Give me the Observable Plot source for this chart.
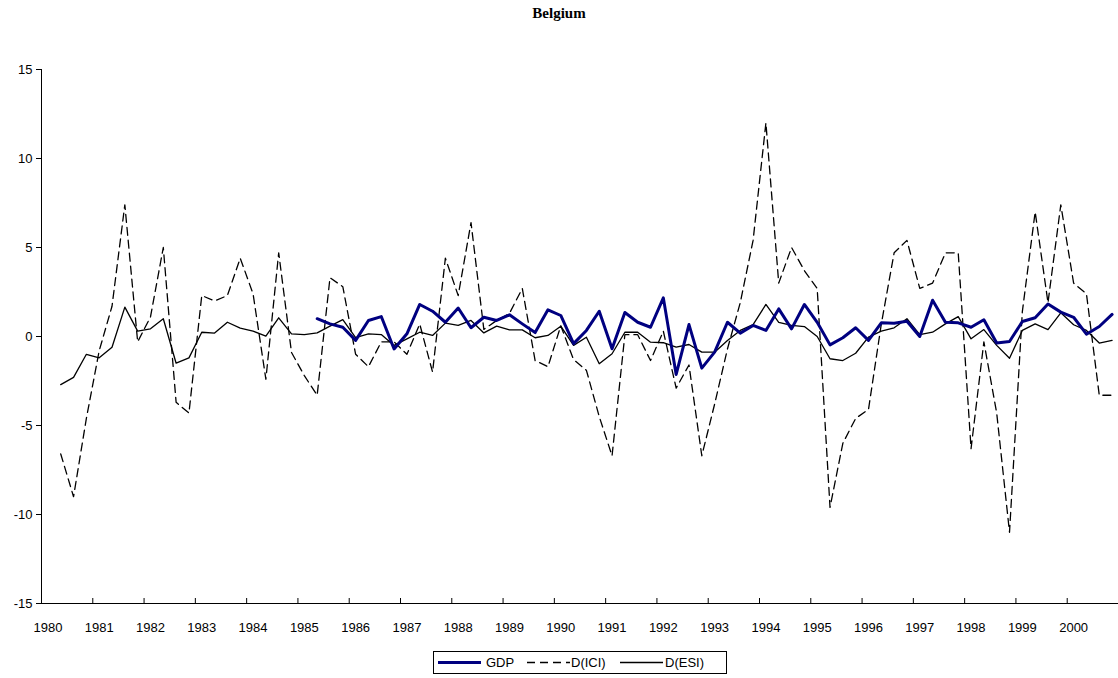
<!DOCTYPE html>
<html><head><meta charset="utf-8">
<script src="https://cdn.jsdelivr.net/npm/d3@7"></script>
<script src="https://cdn.jsdelivr.net/npm/@observablehq/plot@0.6"></script>
<style>
body{margin:0;background:#fff;width:1118px;height:678px;position:relative;overflow:hidden;font-family:"Liberation Sans",Arial,sans-serif;}
#title{position:absolute;top:5px;left:0;width:1118px;text-align:center;font:bold 15px "Liberation Serif","Times New Roman",serif;color:#000;z-index:2;}
#chart{position:absolute;top:0;left:0;z-index:1;}
#legend{position:absolute;left:433px;top:651px;width:292px;height:21px;border:1px solid #000;font-size:13px;color:#000;z-index:2;background:#fff;}
#legend .it{position:absolute;top:0;height:21px;line-height:21px;white-space:nowrap;}
#legend svg{position:absolute;top:0;}
</style></head><body>
<div id="title">Belgium</div>
<div id="chart"></div>
<div id="legend"></div>
<script>
// Year labels (category axis, quarterly data)
const years = ["1980","1981","1982","1983","1984","1985","1986","1987","1988","1989","1990",
               "1991","1992","1993","1994","1995","1996","1997","1998","1999","2000"];
const yTicks = [-15, -10, -5, 0, 5, 10, 15];

// Series starts (quarter labels)
const iciStart = "1980Q2";
const esiStart = "1980Q2";
const gdpStart = "1985Q2";

// D(ICI): 1980Q2 .. 2000Q4
const ici = [-6.6, -9.0, -4.6, -0.8, 1.7, 7.4, -0.3, 1.1, 5.0, -3.7,
             -4.3, 2.3, 2.0, 2.3, 4.4, 2.4, -2.4, 4.7, -0.9, -2.2,
             -3.3, 3.3, 2.8, -1.0, -1.7, -0.3, -0.3, -1.0, 0.7, -2.0,
             4.4, 2.3, 6.4, 0.4, 0.9, 1.3, 2.7, -1.35, -1.7, 0.6,
             -1.3, -1.9, -4.5, -6.7, 0.1, 0.1, -1.35, 0.3, -2.9, -1.6,
             -6.7, -3.8, -0.7, 1.9, 5.4, 12.0, 3.0, 5.0, 3.7, 2.7,
             -9.6, -6.0, -4.6, -4.1, 0.7, 4.7, 5.4, 2.7, 3.0, 4.7,
             4.7, -6.3, -0.3, -4.3, -11.0, 1.4, 7.0, 1.9, 7.4, 3.0,
             2.4, -3.3, -3.3];

// D(ESI): 1980Q2 .. 2000Q4
const esi = [-2.7, -2.3, -1.0, -1.2, -0.6, 1.65, 0.3, 0.43, 1.0, -1.5,
             -1.2, 0.24, 0.19, 0.8, 0.47, 0.3, 0.02, 1.05, 0.15, 0.11,
             0.2, 0.58, 0.95, -0.07, 0.15, 0.11, -0.5, -0.13, 0.24, 0.06,
             0.75, 0.62, 0.9, 0.2, 0.58, 0.37, 0.37, -0.07, 0.06, 0.58,
             -0.5, -0.04, -1.53, -0.97, 0.24, 0.24, -0.32, -0.35, -0.6, -0.45,
             -0.88, -0.88, -0.22, 0.34, 0.67, 1.8, 0.8, 0.62, 0.56, 0.0,
             -1.25, -1.35, -0.94, -0.04, 0.3, 0.49, 1.0, 0.11, 0.24, 0.71,
             1.12, -0.13, 0.39, -0.5, -1.22, 0.34, 0.71, 0.39, 1.33, 0.66,
             0.34, -0.37, -0.22];

// GDP: 1985Q2 .. 2000Q4
const gdp = [1.0, 0.71, 0.52, -0.22, 0.9, 1.12, -0.7, 0.15, 1.8, 1.42,
             0.8, 1.6, 0.49, 1.08, 0.9, 1.22, 0.71, 0.22, 1.5, 1.18,
             -0.4, 0.34, 1.42, -0.69, 1.35, 0.8, 0.52, 2.17, -2.13, 0.67,
             -1.78, -0.88, 0.8, 0.19, 0.62, 0.34, 1.55, 0.43, 1.8, 0.8,
             -0.47, -0.07, 0.49, -0.22, 0.77, 0.75, 0.86, 0.0, 2.04, 0.8,
             0.77, 0.52, 0.94, -0.37, -0.28, 0.84, 1.05, 1.83, 1.37, 1.08,
             0.13, 0.56, 1.24];

// Quarter categories
const quarters = years.flatMap(y => ["Q1","Q2","Q3","Q4"].map(q => y + q));
const rows = (vals, start) => {
  const s = quarters.indexOf(start);
  return vals.map((v, j) => ({x: s + j + 0.5, v}));
};
const iciRows = rows(ici, iciStart);
const esiRows = rows(esi, esiStart);
const gdpRows = rows(gdp, gdpStart);

const yearBounds = years.map(y => quarters.indexOf(y + "Q1"));
const labelPos = yearBounds.map(b => b + 0.5);

const chart = Plot.plot({
  width: 1118, height: 640,
  marginLeft: 41, marginRight: 0, marginTop: 69, marginBottom: 37,
  x: {domain: [0, quarters.length], label: null},
  y: {domain: [-15, 15], label: null},
  style: {fontFamily: "'Liberation Sans', Arial, sans-serif", fontSize: "13px", color: "#000", background: "transparent", overflow: "visible"},
  marks: [
    Plot.axisY({ticks: yTicks, tickSize: 5, tickPadding: 4, label: null, tickFormat: d => String(d), stroke: "#000", strokeOpacity: 1}),
    Plot.axisX({ticks: labelPos, tickSize: 0, tickPadding: 19, label: null, tickFormat: d => years[labelPos.indexOf(d)]}),
    Plot.ruleX(yearBounds.slice(1), {stroke: "#000", insetTop: 529}),
    Plot.ruleY([-15], {stroke: "#000"}),
    Plot.ruleX([0], {stroke: "#000"}),
    Plot.line(esiRows, {x: "x", y: "v", stroke: "#000", strokeWidth: 1.3}),
    Plot.line(iciRows, {x: "x", y: "v", stroke: "#000", strokeWidth: 1.3, strokeDasharray: "8,5"}),
    Plot.line(gdpRows, {x: "x", y: "v", stroke: "#000080", strokeWidth: 3})
  ]
});
document.getElementById("chart").appendChild(chart);

// Legend
const legendItems = [
  {name: "GDP", stroke: "#000080", width: 3, dash: null, sx: 4, tx: 52},
  {name: "D(ICI)", stroke: "#000", width: 1.5, dash: "8,5", sx: 93, tx: 137},
  {name: "D(ESI)", stroke: "#000", width: 1.3, dash: null, sx: 186, tx: 231}
];
const lg = document.getElementById("legend");
for (const it of legendItems) {
  const sw = document.createElementNS("http://www.w3.org/2000/svg", "svg");
  sw.setAttribute("width", 43); sw.setAttribute("height", 21);
  sw.style.left = it.sx + "px";
  const ln = document.createElementNS("http://www.w3.org/2000/svg", "line");
  ln.setAttribute("x1", 0); ln.setAttribute("x2", 43);
  ln.setAttribute("y1", 10.5); ln.setAttribute("y2", 10.5);
  ln.setAttribute("stroke", it.stroke); ln.setAttribute("stroke-width", it.width);
  if (it.dash) ln.setAttribute("stroke-dasharray", it.dash);
  sw.appendChild(ln);
  lg.appendChild(sw);
  const t = document.createElement("div");
  t.className = "it"; t.style.left = it.tx + "px"; t.textContent = it.name;
  lg.appendChild(t);
}
</script>
</body></html>
